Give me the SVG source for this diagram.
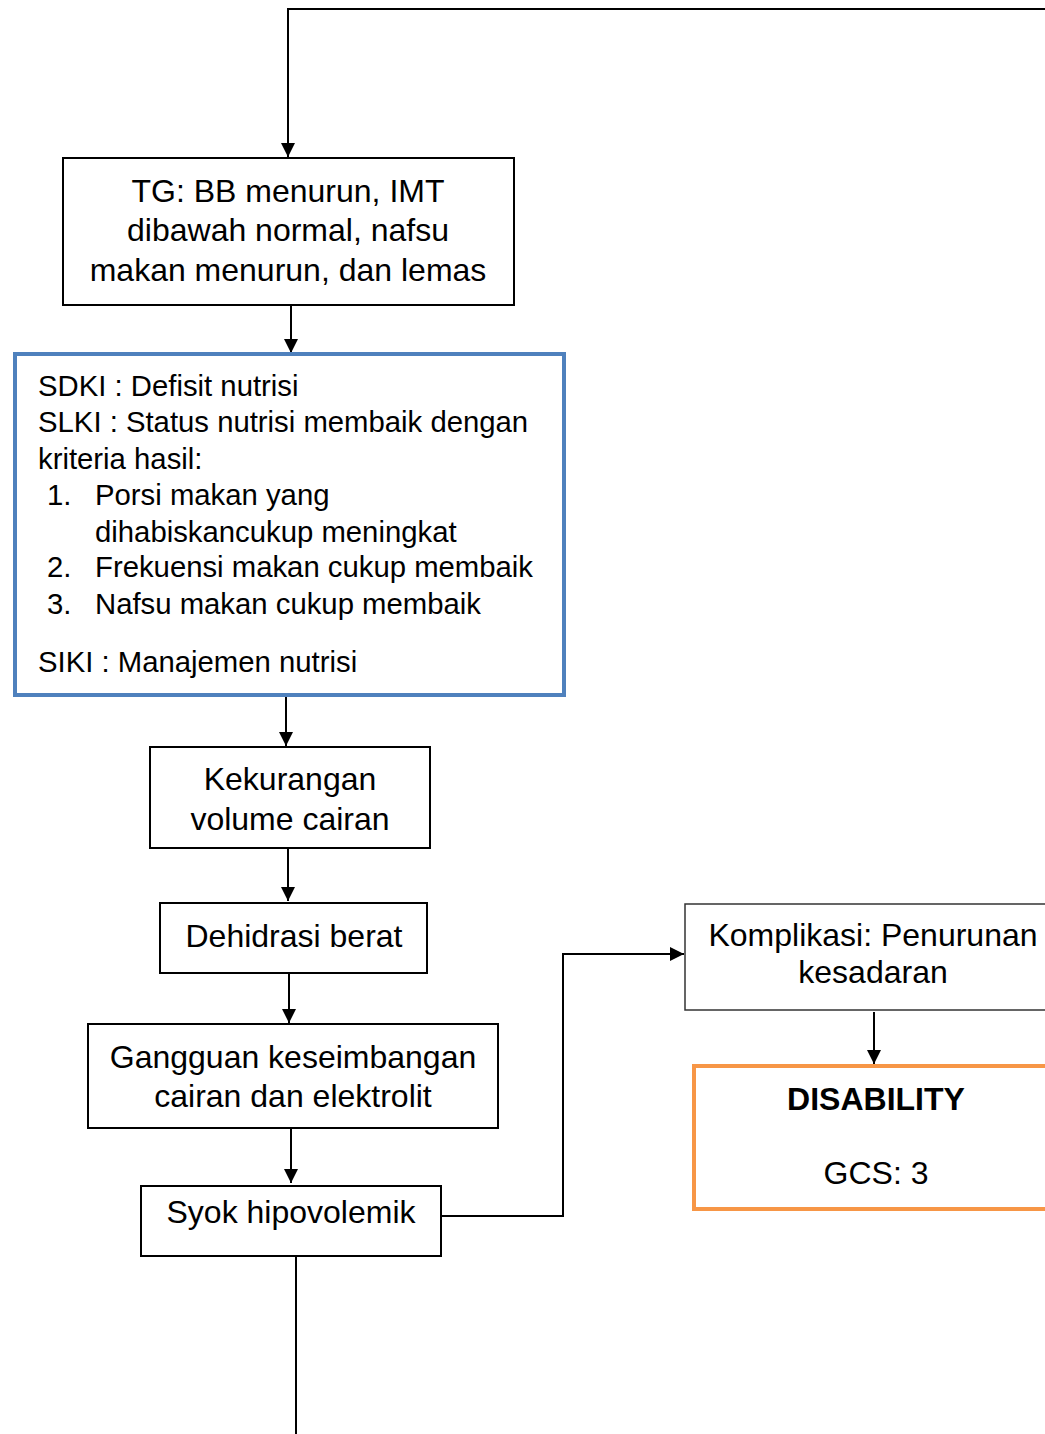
<svg xmlns="http://www.w3.org/2000/svg" width="1045" height="1434" viewBox="0 0 1045 1434">
<style>
.box{fill:#fff;stroke:#000;stroke-width:2}
.t{font-family:"Liberation Sans",Arial,sans-serif;font-size:32px;fill:#000}
.s{font-size:29.3px}
.c{text-anchor:middle}
.conn{fill:none;stroke:#000;stroke-width:2}
</style>
<defs>
<marker id="ah" markerWidth="14" markerHeight="14" refX="14" refY="7" orient="auto" markerUnits="userSpaceOnUse" viewBox="0 0 14 14">
<path d="M0,0 L14,7 L0,14 z" fill="#000"/>
</marker>
</defs>
<rect width="1045" height="1434" fill="#fff"/>
<g id="connectors">
<path class="conn" d="M1045,9 H288 V157" marker-end="url(#ah)"/>
<path class="conn" d="M291,305 V353" marker-end="url(#ah)"/>
<path class="conn" d="M286,696 V746" marker-end="url(#ah)"/>
<path class="conn" d="M288,848 V901" marker-end="url(#ah)"/>
<path class="conn" d="M289,973 V1023" marker-end="url(#ah)"/>
<path class="conn" d="M291,1128 V1183" marker-end="url(#ah)"/>
<path class="conn" d="M296,1256 V1434"/>
<path class="conn" d="M441,1216 H563 V954 H684" marker-end="url(#ah)"/>
<path class="conn" d="M874,1012 V1064" marker-end="url(#ah)"/>
</g>
<g id="tg">
<rect class="box" x="63" y="158" width="451" height="147"/>
<text class="t c" x="288" y="202">TG: BB menurun, IMT</text>
<text class="t c" x="288" y="241">dibawah normal, nafsu</text>
<text class="t c" x="288" y="281">makan menurun, dan lemas</text>
</g>
<g id="sdki">
<rect x="15" y="354" width="549" height="341" fill="#fff" stroke="#4F81BD" stroke-width="4"/>
<text class="t s" x="38" y="396">SDKI : Defisit nutrisi</text>
<text class="t s" x="38" y="432">SLKI : Status nutrisi membaik dengan</text>
<text class="t s" x="38" y="469">kriteria hasil:</text>
<text class="t s" x="47" y="505">1.</text>
<text class="t s" x="95" y="505">Porsi makan yang</text>
<text class="t s" x="95" y="542">dihabiskancukup meningkat</text>
<text class="t s" x="47" y="577">2.</text>
<text class="t s" x="95" y="577">Frekuensi makan cukup membaik</text>
<text class="t s" x="47" y="614">3.</text>
<text class="t s" x="95" y="614">Nafsu makan cukup membaik</text>
<text class="t s" x="38" y="672">SIKI : Manajemen nutrisi</text>
</g>
<g id="kekurangan">
<rect class="box" x="150" y="747" width="280" height="101"/>
<text class="t c" x="290" y="790">Kekurangan</text>
<text class="t c" x="290" y="830">volume cairan</text>
</g>
<g id="dehidrasi">
<rect class="box" x="160" y="903" width="267" height="70"/>
<text class="t c" x="294" y="947">Dehidrasi berat</text>
</g>
<g id="gangguan">
<rect class="box" x="88" y="1024" width="410" height="104"/>
<text class="t c" x="293" y="1068">Gangguan keseimbangan</text>
<text class="t c" x="293" y="1107">cairan dan elektrolit</text>
</g>
<g id="syok">
<rect class="box" x="141" y="1186" width="300" height="70"/>
<text class="t c" x="291" y="1223">Syok hipovolemik</text>
</g>
<g id="komplikasi">
<rect x="685" y="904" width="370" height="106" fill="#fff" stroke="#333" stroke-width="1.5"/>
<text class="t c" x="873" y="946">Komplikasi: Penurunan</text>
<text class="t c" x="873" y="983">kesadaran</text>
</g>
<g id="disability">
<rect x="694" y="1066" width="365" height="143" fill="#fff" stroke="#F79646" stroke-width="4"/>
<text class="t c" x="876" y="1110" style="font-weight:bold">DISABILITY</text>
<text class="t c" x="876" y="1184">GCS: 3</text>
</g>
</svg>
